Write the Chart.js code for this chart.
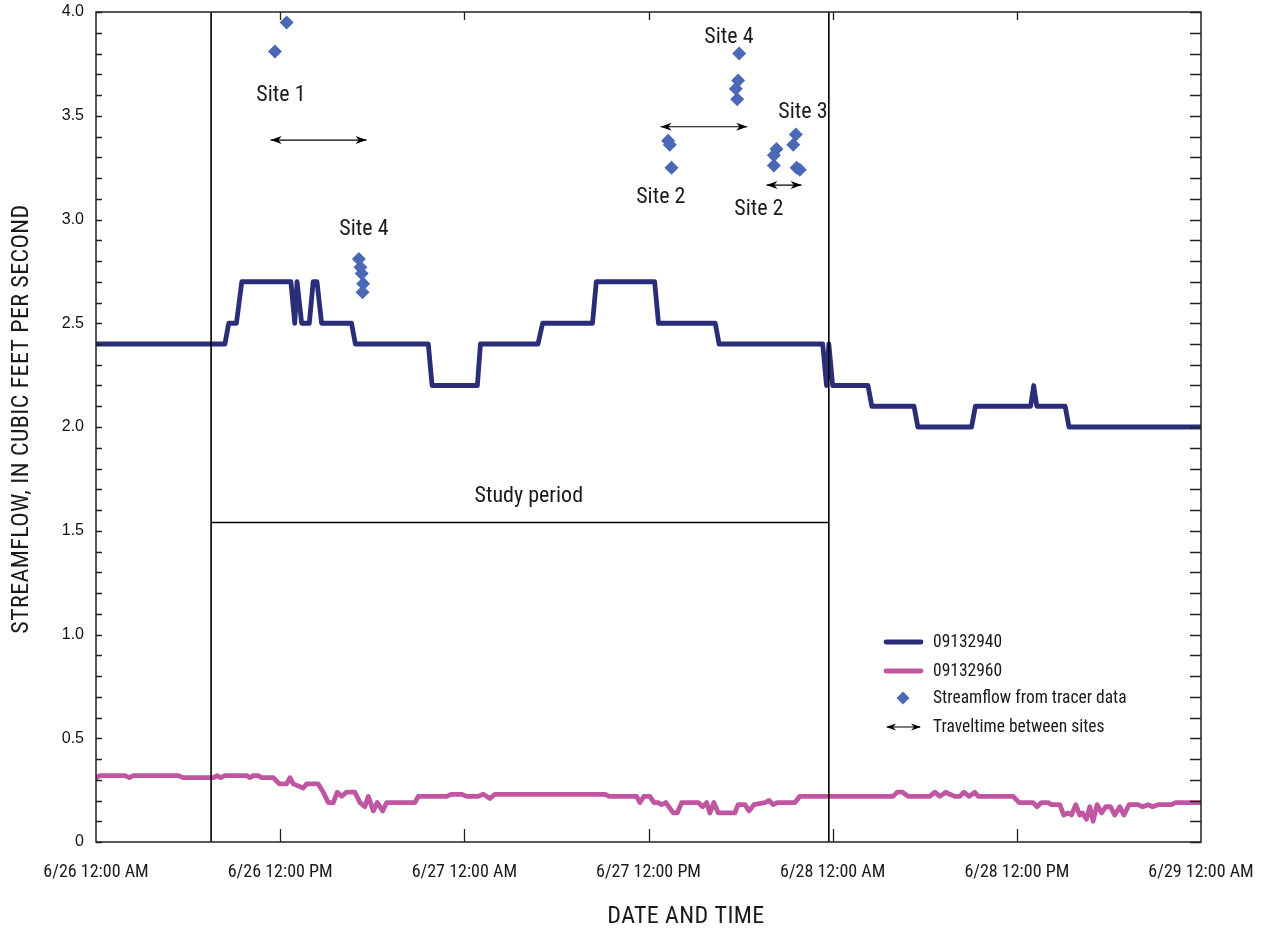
<!DOCTYPE html>
<html>
<head>
<meta charset="utf-8">
<script src="https://cdn.jsdelivr.net/npm/chart.js@4.4.1/dist/chart.umd.min.js"></script>
<style>
html,body{margin:0;padding:0;background:#fff;}
#wrap{width:1263px;height:933px;position:relative;}
</style>
</head>
<body>
<div id="wrap"><canvas id="c" width="1263" height="933"></canvas></div>
<script>
// ---------- DATA ----------
const xTickHours = [0, 12, 24, 36, 48, 60, 72];
const xTickLabels = ['6/26 12:00 AM', '6/26 12:00 PM', '6/27 12:00 AM', '6/27 12:00 PM', '6/28 12:00 AM', '6/28 12:00 PM', '6/29 12:00 AM'];

// 09132940 (hours since 6/26 12:00 AM, cubic feet per second)
const blueHours = [0, 8.4, 8.65, 9.15, 9.5, 12.7, 12.95, 13.1, 13.4, 13.9, 14.15, 14.4, 14.7, 16.65, 16.9, 21.65, 21.9, 24.85, 25.05, 28.8, 29.1, 32.35, 32.6, 36.4, 36.65, 40.35, 40.6, 47.35, 47.6, 47.75, 48.0, 50.3, 50.55, 53.3, 53.55, 57.05, 57.3, 60.9, 61.1, 61.3, 63.15, 63.4, 72];
const blueFlow  = [2.4, 2.4, 2.5, 2.5, 2.7, 2.7, 2.5, 2.7, 2.5, 2.5, 2.7, 2.7, 2.5, 2.5, 2.4, 2.4, 2.2, 2.2, 2.4, 2.4, 2.5, 2.5, 2.7, 2.7, 2.5, 2.5, 2.4, 2.4, 2.2, 2.4, 2.2, 2.2, 2.1, 2.1, 2.0, 2.0, 2.1, 2.1, 2.2, 2.1, 2.1, 2.0, 2.0];

// 09132960
const pinkHours = [0, 0.26, 1.89, 2.17, 2.43, 5.36, 5.69, 7.64, 7.9, 8.12, 8.4, 9.82, 10.03, 10.25, 10.57, 10.8, 11.55, 11.94, 12.42, 12.64, 12.85, 13.5, 13.73, 14.48, 14.81, 15.13, 15.46, 15.72, 16.0, 16.33, 16.87, 17.2, 17.52, 17.74, 18.07, 18.33, 18.68, 18.94, 19.26, 19.59, 20.78, 21.0, 22.85, 23.17, 23.82, 24.15, 24.9, 25.23, 25.67, 25.99, 33.16, 33.44, 35.22, 35.44, 35.7, 36.09, 36.35, 36.63, 36.85, 37.13, 37.61, 37.87, 38.16, 39.24, 39.52, 39.79, 40.0, 40.26, 40.54, 41.63, 41.84, 42.28, 42.56, 42.87, 43.58, 43.86, 44.12, 44.38, 45.54, 45.86, 51.94, 52.2, 52.55, 52.92, 54.33, 54.66, 54.98, 55.37, 55.63, 55.96, 56.29, 56.55, 56.89, 57.26, 57.48, 59.76, 60.15, 61.06, 61.32, 61.6, 62.03, 62.25, 62.8, 63.06, 63.34, 63.56, 63.84, 64.1, 64.28, 64.54, 64.76, 64.97, 65.23, 65.52, 65.8, 66.1, 66.38, 66.71, 66.97, 67.32, 67.9, 68.19, 68.55, 68.84, 69.2, 70.07, 70.35, 72];
const pinkFlow  = [0.31, 0.32, 0.32, 0.31, 0.32, 0.32, 0.31, 0.31, 0.32, 0.31, 0.32, 0.32, 0.31, 0.32, 0.32, 0.31, 0.31, 0.28, 0.28, 0.31, 0.28, 0.26, 0.28, 0.28, 0.24, 0.19, 0.19, 0.24, 0.22, 0.24, 0.24, 0.19, 0.17, 0.22, 0.15, 0.19, 0.15, 0.19, 0.19, 0.19, 0.19, 0.22, 0.22, 0.23, 0.23, 0.22, 0.22, 0.23, 0.21, 0.23, 0.23, 0.22, 0.22, 0.19, 0.22, 0.22, 0.19, 0.19, 0.18, 0.19, 0.14, 0.14, 0.19, 0.19, 0.17, 0.19, 0.14, 0.19, 0.14, 0.14, 0.18, 0.18, 0.15, 0.18, 0.19, 0.20, 0.18, 0.19, 0.19, 0.22, 0.22, 0.24, 0.24, 0.22, 0.22, 0.24, 0.22, 0.24, 0.23, 0.22, 0.22, 0.24, 0.22, 0.24, 0.22, 0.22, 0.19, 0.19, 0.17, 0.19, 0.19, 0.18, 0.18, 0.13, 0.14, 0.13, 0.18, 0.13, 0.14, 0.11, 0.17, 0.10, 0.18, 0.14, 0.17, 0.17, 0.13, 0.17, 0.13, 0.18, 0.18, 0.17, 0.18, 0.17, 0.18, 0.18, 0.19, 0.19];

// Streamflow from tracer data
const tracerHours = [11.66, 12.42, 17.13, 17.23, 17.31, 17.41, 17.37, 37.28, 37.39, 37.5, 41.69, 41.78, 41.84, 41.91, 44.17, 44.17, 44.34, 45.43, 45.6, 45.65, 45.86];
const tracerFlow  = [3.81, 3.95, 2.81, 2.77, 2.74, 2.69, 2.65, 3.38, 3.36, 3.25, 3.63, 3.58, 3.67, 3.80, 3.31, 3.26, 3.34, 3.36, 3.41, 3.25, 3.24];

// Traveltime between sites (double arrows)
const arrowStartHours = [11.38, 36.79, 43.69];
const arrowEndHours   = [17.63, 42.43, 45.97];
const arrowFlow       = [3.383, 3.447, 3.166];

// Study period
const studyStartHour = 7.5;
const studyEndHour = 47.75;
const studyFlow = 1.54;

// Text labels
const noteText  = ['Site 1', 'Site 4', 'Site 4', 'Site 3', 'Site 2', 'Site 2', 'Study period'];
const noteHours = [12.05, 17.46, 41.24, 46.06, 36.8, 43.19, 28.2];
const noteFlow  = [3.6, 2.954, 3.875, 3.518, 3.104, 3.046, 1.663];

const xTitle = 'DATE AND TIME';
const yTitle = 'STREAMFLOW, IN CUBIC FEET PER SECOND';
const legendText = ['09132940', '09132960', 'Streamflow from tracer data', 'Traveltime between sites'];

// ---------- STYLE ----------
const NARROW = '"Liberation Sans Narrow", "Roboto Condensed", "Arial Narrow", "Liberation Sans", sans-serif';
const BLUE = '#2a2d77';
const PINK = '#c056a1';
const DIAMOND = '#4a68b6';
const TEXT = '#1a1a1a';
const LW = 4.8;

const pts = (xs, ys) => xs.map((x, i) => ({x: x, y: ys[i]}));

const datasets = [
  {label: 'Streamflow from tracer data', data: pts(tracerHours, tracerFlow), showLine: false,
   pointStyle: 'rectRot', pointRadius: 7, pointBackgroundColor: DIAMOND, pointBorderWidth: 0, order: 0},
  {label: '09132940', data: pts(blueHours, blueFlow), showLine: true, borderColor: BLUE, borderWidth: LW,
   pointRadius: 0, tension: 0, borderJoinStyle: 'round', borderCapStyle: 'round', order: 2},
  {label: '09132960', data: pts(pinkHours, pinkFlow), showLine: true, borderColor: PINK, borderWidth: LW,
   pointRadius: 0, tension: 0, borderJoinStyle: 'round', borderCapStyle: 'round', order: 3},
  {label: 'study-left', data: [{x: studyStartHour, y: 0}, {x: studyStartHour, y: 4}], showLine: true,
   borderColor: '#000', borderWidth: 1.6, pointRadius: 0, order: 1},
  {label: 'study-right', data: [{x: studyEndHour, y: 0}, {x: studyEndHour, y: 4}], showLine: true,
   borderColor: '#000', borderWidth: 1.6, pointRadius: 0, order: 1},
  {label: 'study-bar', data: [{x: studyStartHour, y: studyFlow}, {x: studyEndHour, y: studyFlow}], showLine: true,
   borderColor: '#000', borderWidth: 1.6, pointRadius: 0, order: 1}
];
arrowStartHours.forEach((h, i) => {
  datasets.push({label: 'arrow' + i, isArrow: true,
    data: [{x: h, y: arrowFlow[i]}, {x: arrowEndHours[i], y: arrowFlow[i]}], showLine: true,
    borderColor: '#000', borderWidth: 1.2, pointRadius: 0, order: 1});
});

function arrowHead(ctx, x, y, dir, len, half) {
  ctx.beginPath();
  ctx.moveTo(x, y);
  ctx.lineTo(x - dir * len, y - half);
  ctx.lineTo(x - dir * len * 0.7, y);
  ctx.lineTo(x - dir * len, y + half);
  ctx.closePath();
  ctx.fill();
}

const decorPlugin = {
  id: 'decor',
  afterDatasetsDraw(chart) {
    const ctx = chart.ctx;
    ctx.save();
    ctx.fillStyle = '#000';
    chart.data.datasets.forEach((ds, i) => {
      if (!ds.isArrow) return;
      const meta = chart.getDatasetMeta(i);
      const a = meta.data[0], b = meta.data[1];
      arrowHead(ctx, a.x, a.y, -1, 11, 4);
      arrowHead(ctx, b.x, b.y, 1, 11, 4);
    });
    ctx.restore();
  },
  afterDraw(chart) {
    const ctx = chart.ctx;
    const {left, right, top, bottom} = chart.chartArea;
    const xs = chart.scales.x, ys = chart.scales.y;
    ctx.save();
    // frame
    ctx.strokeStyle = '#222';
    ctx.lineWidth = 1.5;
    ctx.strokeRect(left, top, right - left, bottom - top);
    // y ticks inward, both sides
    ctx.lineWidth = 1.3;
    ys.ticks.forEach(t => {
      const py = Math.round(ys.getPixelForValue(t.value)) + 0.5;
      ctx.beginPath();
      ctx.moveTo(left, py); ctx.lineTo(left + 6, py);
      ctx.moveTo(right, py); ctx.lineTo(right - 11, py);
      ctx.stroke();
    });
    // x ticks inward, top and bottom
    xs.ticks.forEach(t => {
      if (t.value === xs.min || t.value === xs.max) return;
      const px = Math.round(xs.getPixelForValue(t.value)) + 0.5;
      ctx.beginPath();
      ctx.moveTo(px, bottom); ctx.lineTo(px, bottom - 13);
      ctx.moveTo(px, top); ctx.lineTo(px, top + 8);
      ctx.stroke();
    });
    // notes
    ctx.fillStyle = TEXT;
    ctx.font = '22px ' + NARROW;
    ctx.textAlign = 'center';
    ctx.textBaseline = 'middle';
    noteText.forEach((t, i) => {
      ctx.fillText(t, xs.getPixelForValue(noteHours[i]), ys.getPixelForValue(noteFlow[i]));
    });
    // axis titles
    ctx.font = '24px ' + NARROW;
    ctx.letterSpacing = '0.4px';
    ctx.fillText(xTitle, 686, 917);
    ctx.save();
    ctx.translate(22, 419);
    ctx.rotate(-Math.PI / 2);
    ctx.fillText(yTitle, 0, 0);
    ctx.restore();
    ctx.letterSpacing = '0px';
    // legend
    const lx = 884, tx = 933;
    const rows = [642, 671, 698, 727];
    ctx.lineCap = 'round';
    ctx.lineWidth = LW;
    ctx.strokeStyle = BLUE;
    ctx.beginPath(); ctx.moveTo(lx + 2, rows[0]); ctx.lineTo(lx + 37, rows[0]); ctx.stroke();
    ctx.strokeStyle = PINK;
    ctx.beginPath(); ctx.moveTo(lx + 2, rows[1]); ctx.lineTo(lx + 37, rows[1]); ctx.stroke();
    ctx.fillStyle = DIAMOND;
    ctx.beginPath();
    ctx.moveTo(lx + 19, rows[2] - 6.5); ctx.lineTo(lx + 25.5, rows[2]);
    ctx.lineTo(lx + 19, rows[2] + 6.5); ctx.lineTo(lx + 12.5, rows[2]); ctx.closePath(); ctx.fill();
    ctx.strokeStyle = '#000'; ctx.fillStyle = '#000'; ctx.lineWidth = 1.2; ctx.lineCap = 'butt';
    ctx.beginPath(); ctx.moveTo(lx + 3, rows[3]); ctx.lineTo(lx + 36, rows[3]); ctx.stroke();
    arrowHead(ctx, lx + 2, rows[3], -1, 10, 3.5);
    arrowHead(ctx, lx + 37, rows[3], 1, 10, 3.5);
    ctx.fillStyle = TEXT;
    ctx.font = '17.5px ' + NARROW;
    ctx.textAlign = 'left';
    legendText.forEach((t, i) => {
      ctx.fillText(t, tx, rows[i] + 1);
    });
    ctx.restore();
  }
};

new Chart(document.getElementById('c'), {
  type: 'scatter',
  data: {datasets: datasets},
  plugins: [decorPlugin],
  options: {
    responsive: false,
    animation: false,
    devicePixelRatio: 1,
    layout: {padding: {top: 12, right: 62, bottom: 0, left: 0}},
    plugins: {legend: {display: false}, tooltip: {enabled: false}},
    scales: {
      x: {
        type: 'linear', min: 0, max: 72,
        afterBuildTicks: s => { s.ticks = xTickHours.map(v => ({value: v})); },
        afterFit: s => { s.height = 91; s.paddingLeft = 0; s.paddingRight = 0; },
        grid: {display: false},
        border: {display: false},
        ticks: {
          autoSkip: false, maxRotation: 0, minRotation: 0, padding: 12,
          color: TEXT, font: {family: NARROW, size: 18},
          callback: v => xTickLabels[xTickHours.indexOf(v)]
        },
        title: {display: false}
      },
      y: {
        type: 'linear', min: 0, max: 4,
        afterFit: s => { s.width = 96; s.paddingTop = 0; s.paddingBottom = 0; },
        grid: {display: false},
        border: {display: false},
        ticks: {
          stepSize: 0.1, autoSkip: false, padding: 4,
          color: '#111', font: {family: '"Liberation Sans", Arial, sans-serif', size: 16},
          callback: v => {
            const r = Math.round(v * 10) / 10;
            if (Math.abs(r * 2 - Math.round(r * 2)) > 1e-6) return '';
            return r === 0 ? '0' : r.toFixed(1);
          }
        },
        title: {display: false}
      }
    }
  }
});
</script>
</body>
</html>
